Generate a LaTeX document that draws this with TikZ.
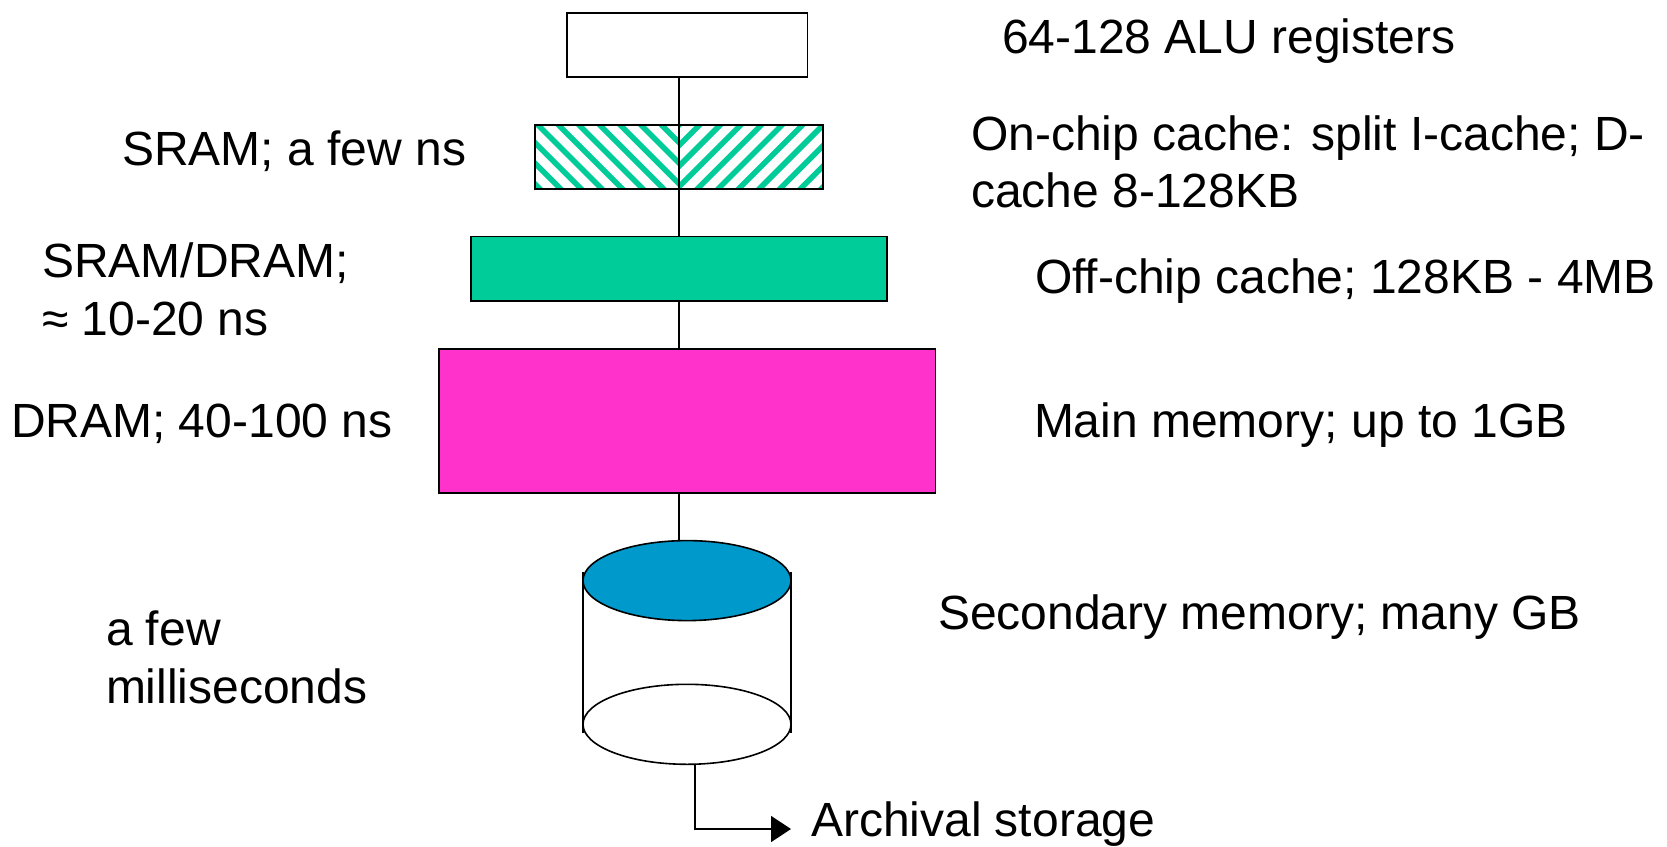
\documentclass[tikz,border=0pt]{standalone}
\usepackage{fontspec}
\setmainfont{Liberation Sans}
\usetikzlibrary{shapes.geometric,arrows.meta}
\definecolor{hatchgreen}{HTML}{00CC99}
\definecolor{diskblue}{HTML}{0099CC}
\definecolor{memmagenta}{HTML}{FF33CC}
\tikzset{
  membox/.style={draw=black,line width=1.7pt,inner sep=0pt,outer sep=0pt},
  disk/.style={ellipse,draw=black,line width=1.6pt,inner sep=0pt,outer sep=0pt,minimum width=208pt,minimum height=80pt},
  wire/.style={draw=black,line width=1.6pt},
  lbl/.style={anchor=base west,inner sep=0pt,outer sep=0pt,font=\fontsize{48}{54}\selectfont},
  stripe/.style={draw=hatchgreen,line width=5.5pt}
}
\begin{document}
\begin{tikzpicture}[x=1pt,y=-1pt]
\useasboundingbox (0,0) rectangle (1667,846);
\fill[white] (0,0) rectangle (1667,846);
\coordinate (spine) at (679,0);
% hatch
\begin{scope}
\clip (535,124.7) rectangle (679,188.7);
\foreach \k in {-4,...,9}{\draw[stripe] (684-20.6*\k-80,108.7) -- ++(100,100);}
\end{scope}
\begin{scope}
\clip (679,124.7) rectangle (823,188.7);
\foreach \k in {-4,...,9}{\draw[stripe] (677+20.6*\k-20,208.7) -- ++(100,-100);}
\end{scope}
\node[membox,minimum width=240.3pt,minimum height=64pt] (r1) at (687.2,44.7) {};
\node[membox,minimum width=288pt,minimum height=64pt] (r2) at (679,156.7) {};
\node[membox,fill=hatchgreen,minimum width=416pt,minimum height=64.5pt] (r3) at (679,268.7) {};
\node[membox,fill=memmagenta,minimum width=496.5pt,minimum height=144pt] (r4) at (687.3,420.7) {};
\draw[wire] (r1.south -| spine) -- (r3.north -| spine);
\draw[wire] (r3.south -| spine) -- (r4.north -| spine);
% disk
\coordinate (sideTL) at (583,572);
\coordinate (sideBL) at (583,733);
\coordinate (sideTR) at (791,572);
\coordinate (sideBR) at (791,733);
\draw[wire] (sideTL) -- (sideBL);
\draw[wire] (sideTR) -- (sideBR);
\node[disk,fill=diskblue] (dtop) at (687,580.6) {};
\node[disk,fill=white] (dbot) at (687,724.3) {};
\draw[wire] (r4.south -| spine) -- (dtop.north -| spine);
\coordinate (drop) at (695,0);
\node[lbl] (arch) at (811,836) {Archival storage};
\coordinate (tip) at (791,829);
\draw[wire,-{Triangle[length=20pt,width=26pt]}] (dbot.south -| drop) |- (tip);
% labels
\node[lbl] (l1) at (1002,53) {64-128 ALU registers};
\node[lbl] (l2) at (971,150) {On-chip cache: split I-cache; D-};
\node[lbl] (l2b) at (971,207) {cache 8-128KB};
\node[lbl] (l3) at (1035,293) {Off-chip cache; 128KB - 4MB};
\node[lbl] (l4) at (1034,437) {Main memory; up to 1GB};
\node[lbl] (l5) at (938,629) {Secondary memory; many GB};
\node[lbl] (s1) at (122,165) {SRAM; a few ns};
\node[lbl] (s2) at (42,277) {SRAM/DRAM;};
\node[lbl] (s2b) at (42,335) {≈ 10-20 ns};
\node[lbl] (s3) at (11,437) {DRAM; 40-100 ns};
\node[lbl] (s4) at (106,645) {a few};
\node[lbl] (s4b) at (106,703.5) {milliseconds};
\end{tikzpicture}
\end{document}
